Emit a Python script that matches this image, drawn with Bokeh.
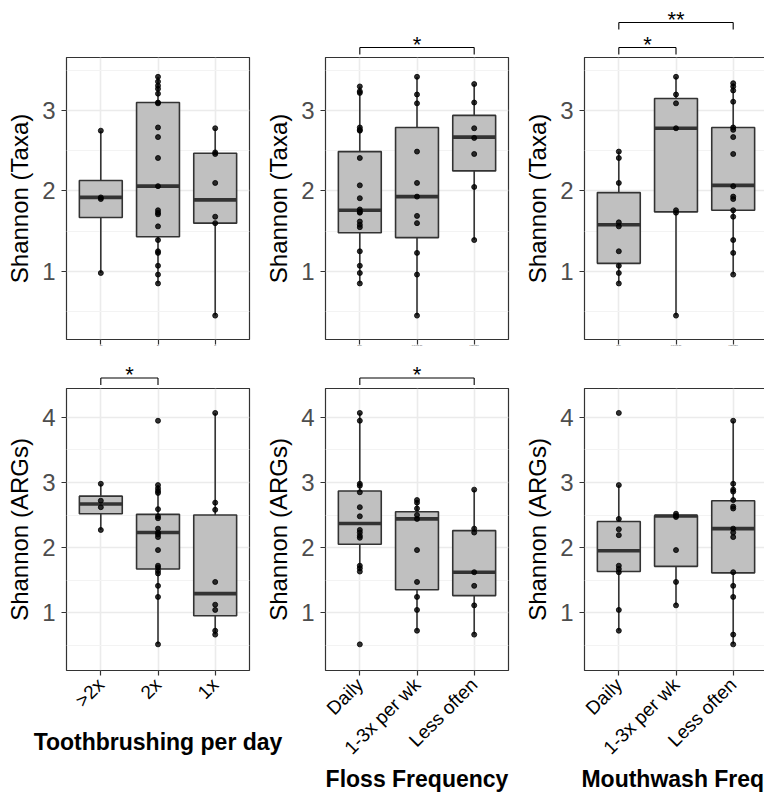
import math
from bokeh.plotting import figure
from bokeh.layouts import row, column
from bokeh.models import Range1d, FactorRange, FixedTicker, ColumnDataSource
from bokeh.transform import dodge
from bokeh.embed import file_html
from bokeh.resources import INLINE
from bokeh.core.properties import value

# ---------------- data ----------------
brush_cats = [">2x", "2x", "1x"]
freq_cats = ["Daily", "1-3x per wk", "Less often"]

# Shannon (Taxa) ~ Toothbrushing per day
taxa_brush_q1 = [1.67, 1.43, 1.60]
taxa_brush_med = [1.92, 2.06, 1.89]
taxa_brush_q3 = [2.13, 3.10, 2.47]
taxa_brush_lo = [0.98, 0.85, 0.45]
taxa_brush_hi = [2.75, 3.42, 2.78]
taxa_brush_pts = [
    [2.75, 1.92, 1.90, 0.98],
    [3.42, 3.36, 3.31, 3.27, 3.21, 3.10, 3.09, 2.79, 2.67, 2.41, 2.06, 1.76, 1.73, 1.71,
     1.56, 1.39, 1.25, 1.23, 1.07, 0.96, 0.85],
    [2.78, 2.48, 2.46, 2.10, 1.68, 1.60, 0.45],
]

# Shannon (Taxa) ~ Floss Frequency
taxa_floss_q1 = [1.48, 1.42, 2.25]
taxa_floss_med = [1.76, 1.93, 2.67]
taxa_floss_q3 = [2.49, 2.79, 2.94]
taxa_floss_lo = [0.85, 0.45, 1.39]
taxa_floss_hi = [3.30, 3.42, 3.33]
taxa_floss_pts = [
    [3.30, 3.24, 3.22, 2.79, 2.76, 2.75, 2.41, 2.07, 1.91, 1.77, 1.74, 1.73, 1.62, 1.58,
     1.55, 1.25, 1.07, 0.98, 0.85],
    [3.42, 3.20, 3.09, 2.49, 2.10, 1.93, 1.69, 1.60, 1.23, 0.96, 0.45],
    [3.33, 3.10, 2.78, 2.66, 2.46, 2.05, 1.39],
]

# Shannon (Taxa) ~ Mouthwash Freq.
taxa_mouth_q1 = [1.10, 1.74, 1.76]
taxa_mouth_med = [1.58, 2.78, 2.07]
taxa_mouth_q3 = [1.98, 3.15, 2.79]
taxa_mouth_lo = [0.85, 0.45, 0.96]
taxa_mouth_hi = [2.49, 3.42, 3.34]
taxa_mouth_pts = [
    [2.49, 2.41, 2.10, 1.61, 1.56, 1.25, 1.07, 0.98, 0.85],
    [3.42, 3.20, 3.09, 2.78, 1.76, 1.73, 0.45],
    [3.34, 3.30, 3.25, 3.11, 2.79, 2.76, 2.67, 2.46, 2.06, 1.93, 1.90, 1.76, 1.68, 1.39,
     1.23, 0.96],
]

# Shannon (ARGs) ~ Toothbrushing per day
args_brush_q1 = [2.52, 1.67, 0.95]
args_brush_med = [2.67, 2.23, 1.29]
args_brush_q3 = [2.79, 2.51, 2.50]
args_brush_lo = [2.27, 0.51, 0.66]
args_brush_hi = [2.98, 2.96, 4.07]
args_brush_pts = [
    [2.98, 2.72, 2.62, 2.27],
    [3.95, 2.96, 2.91, 2.87, 2.84, 2.59, 2.48, 2.45, 2.29, 2.23, 2.20, 2.16, 1.96, 1.72,
     1.69, 1.64, 1.60, 1.41, 1.24, 0.51],
    [4.07, 2.69, 2.58, 1.47, 1.12, 1.04, 0.72, 0.66],
]

# Shannon (ARGs) ~ Floss Frequency
args_floss_q1 = [2.05, 1.35, 1.26]
args_floss_med = [2.37, 2.44, 1.62]
args_floss_q3 = [2.87, 2.55, 2.26]
args_floss_lo = [1.64, 0.72, 0.66]
args_floss_hi = [4.07, 2.73, 2.89]
args_floss_pts = [
    [4.07, 3.95, 2.98, 2.95, 2.85, 2.62, 2.48, 2.27, 2.23, 2.18, 2.15, 1.72, 1.68, 1.63, 0.51],
    [2.73, 2.69, 2.60, 2.50, 2.44, 1.96, 1.47, 1.24, 1.04, 0.72],
    [2.89, 2.29, 2.23, 1.62, 1.41, 1.11, 0.66],
]

# Shannon (ARGs) ~ Mouthwash Freq.
args_mouth_q1 = [1.63, 1.71, 1.61]
args_mouth_med = [1.95, 2.485, 2.29]
args_mouth_q3 = [2.40, 2.49, 2.72]
args_mouth_lo = [0.72, 1.11, 0.51]
args_mouth_hi = [2.96, 2.52, 3.95]
args_mouth_pts = [
    [4.07, 2.96, 2.44, 2.28, 2.19, 1.72, 1.67, 1.62, 1.04, 0.72],
    [2.52, 2.49, 2.47, 1.96, 1.47, 1.11],
    [3.95, 2.98, 2.89, 2.86, 2.73, 2.63, 2.60, 2.29, 2.23, 2.16, 1.62, 1.41, 1.24, 0.66, 0.51],
]

# significance brackets: start, end, height, label
taxa_floss_br_start = ["Daily"]
taxa_floss_br_end = ["Less often"]
taxa_floss_br_y = [3.785]
taxa_floss_br_label = ["*"]

taxa_mouth_br_start = ["Daily", "Daily"]
taxa_mouth_br_end = ["1-3x per wk", "Less often"]
taxa_mouth_br_y = [3.785, 4.096]
taxa_mouth_br_label = ["*", "**"]

args_brush_br_start = [">2x"]
args_brush_br_end = ["2x"]
args_brush_br_y = [4.608]
args_brush_br_label = ["*"]

args_floss_br_start = ["Daily"]
args_floss_br_end = ["Less often"]
args_floss_br_y = [4.608]
args_floss_br_label = ["*"]

taxa_ticks = [1, 2, 3]
taxa_minor = [0.5, 1.5, 2.5, 3.5]
args_ticks = [1, 2, 3, 4]
args_minor = [0.5, 1.5, 2.5, 3.5, 4.5]

# ---------------- style ----------------
FONT = "Liberation Sans"
FRAME_H = 282
FRAME_W = 183
BOX_FILL = "#C0C0C0"
DARK = "#333333"
GRID = "#EBEBEB"
GRID_MINOR = "#F3F3F3"


def make_panel(cats, q1, med, q3, lo, hi, pts, ylim, ticks, minor, ylabel, xlabel,
               bottom_row, left, right, strip_h, br=None, fill="white", shift=0,
               xlabel_standoff=8):
    xr = FactorRange(factors=cats, range_padding=0.2 / 3, range_padding_units="percent")
    yr = Range1d(ylim[0], ylim[1])
    ppu = FRAME_H / (ylim[1] - ylim[0])

    p = figure(x_range=xr, y_range=yr, frame_width=FRAME_W, frame_height=FRAME_H,
               min_border_left=left, min_border_right=right, min_border_top=0,
               min_border_bottom=0 if bottom_row else 10,
               toolbar_location=None, output_backend="svg",
               background_fill_color="white", border_fill_color=fill)
    p.outline_line_color = DARK
    p.outline_line_width = 1.2

    tk = FixedTicker(ticks=ticks, minor_ticks=minor)
    p.yaxis.ticker = tk
    p.ygrid.ticker = tk
    p.ygrid.grid_line_color = GRID
    p.ygrid.grid_line_width = 1.6
    p.ygrid.minor_grid_line_color = GRID_MINOR
    p.ygrid.minor_grid_line_width = 1.0
    p.xgrid.grid_line_color = GRID
    p.xgrid.grid_line_width = 1.6

    for ax in (p.xaxis, p.yaxis):
        ax.axis_line_color = None
        ax.major_tick_line_color = DARK
        ax.major_tick_line_width = 1.2
        ax.major_tick_out = 5
        ax.major_tick_in = 0
        ax.minor_tick_line_color = None

    p.yaxis.major_label_text_font = FONT
    p.yaxis.major_label_text_font_size = "24px"
    p.yaxis.major_label_text_color = "#4D4D4D"
    p.yaxis.major_label_standoff = 6
    p.yaxis.axis_label = ylabel
    p.yaxis.axis_label_text_font = FONT
    p.yaxis.axis_label_text_font_size = "24px"
    p.yaxis.axis_label_text_font_style = "normal"
    p.yaxis.axis_label_text_color = "black"
    p.yaxis.axis_label_standoff = 6

    if bottom_row:
        p.xaxis.major_label_orientation = math.pi / 4
        p.xaxis.major_label_text_font = FONT
        p.xaxis.major_label_text_font_size = "19px"
        p.xaxis.major_label_text_color = "black"
        p.xaxis.major_label_standoff = 6
        p.xaxis.axis_label = xlabel
        p.xaxis.axis_label_text_font = FONT
        p.xaxis.axis_label_text_font_size = "23px"
        p.xaxis.axis_label_text_font_style = "bold"
        p.xaxis.axis_label_text_color = "black"
        p.xaxis.axis_label_standoff = xlabel_standoff
    else:
        p.xaxis.major_label_overrides = {c: "" for c in cats}
        p.xaxis.major_label_text_font_size = "2px"
        p.xaxis.major_label_standoff = 0

    # whiskers
    p.segment(x0=cats, x1=cats, y0=q3, y1=hi, line_color=DARK, line_width=1.6)
    p.segment(x0=cats, x1=cats, y0=q1, y1=lo, line_color=DARK, line_width=1.6)
    # boxes
    p.vbar(x=cats, width=0.75, bottom=q1, top=q3, fill_color=BOX_FILL,
           line_color=DARK, line_width=1.6)
    # medians
    msrc = ColumnDataSource(dict(cat=cats, med=med))
    p.segment(x0=dodge("cat", -0.375, range=xr), x1=dodge("cat", 0.375, range=xr),
              y0="med", y1="med", source=msrc, line_color=DARK, line_width=3.6)
    # points
    xs, ys = [], []
    for c, vals in zip(cats, pts):
        for v in vals:
            xs.append(c)
            ys.append(v)
    p.scatter(x=xs, y=ys, size=5, color="black", alpha=0.8)

    # strip above the panel for significance brackets
    s = figure(x_range=xr, y_range=Range1d(ylim[1], ylim[1] + strip_h / ppu),
               frame_width=FRAME_W, frame_height=strip_h,
               min_border_left=left, min_border_right=right, min_border_top=0,
               min_border_bottom=0, x_axis_location=None, y_axis_location=None,
               toolbar_location=None, output_backend="svg",
               background_fill_color=None, border_fill_color=fill)
    s.outline_line_color = None
    s.grid.visible = False
    if br is not None:
        starts, ends, heights, labels = br
        leg = 7.0 / ppu
        s.segment(x0=starts, x1=ends, y0=heights, y1=heights, line_color="black", line_width=1.1)
        s.segment(x0=starts, x1=starts, y0=heights, y1=[h - leg for h in heights],
                  line_color="black", line_width=1.1)
        s.segment(x0=ends, x1=ends, y0=heights, y1=[h - leg for h in heights],
                  line_color="black", line_width=1.1)
        for st, en, h, lab in zip(starts, ends, heights, labels):
            off = (cats.index(en) - cats.index(st)) / 2.0
            tsrc = ColumnDataSource(dict(x=[st], y=[h], t=[lab]))
            s.text(x=dodge("x", off, range=xr), y="y", text="t", source=tsrc,
                   text_align="center", text_baseline="alphabetic", y_offset=-3,
                   text_font=value(FONT), text_font_size="22px", text_color="black")
    if shift:
        return column(s, p, margin=(0, 0, 0, shift))
    return column(s, p)


TOP_LIM = (0.153, 3.66)
BOT_LIM = (0.108, 4.446)

c1 = make_panel(brush_cats, taxa_brush_q1, taxa_brush_med, taxa_brush_q3, taxa_brush_lo,
                taxa_brush_hi, taxa_brush_pts, TOP_LIM, taxa_ticks, taxa_minor,
                "Shannon (Taxa)", "", False, 66, 13, 57)
c2 = make_panel(freq_cats, taxa_floss_q1, taxa_floss_med, taxa_floss_q3, taxa_floss_lo,
                taxa_floss_hi, taxa_floss_pts, TOP_LIM, taxa_ticks, taxa_minor,
                "Shannon (Taxa)", "", False, 63, 7, 57,
                (taxa_floss_br_start, taxa_floss_br_end, taxa_floss_br_y, taxa_floss_br_label))
c3 = make_panel(freq_cats, taxa_mouth_q1, taxa_mouth_med, taxa_mouth_q3, taxa_mouth_lo,
                taxa_mouth_hi, taxa_mouth_pts, TOP_LIM, taxa_ticks, taxa_minor,
                "Shannon (Taxa)", "", False, 69, 0, 57,
                (taxa_mouth_br_start, taxa_mouth_br_end, taxa_mouth_br_y, taxa_mouth_br_label))

c4 = make_panel(brush_cats, args_brush_q1, args_brush_med, args_brush_q3, args_brush_lo,
                args_brush_hi, args_brush_pts, BOT_LIM, args_ticks, args_minor,
                "Shannon (ARGs)", "Toothbrushing per day", True, 66, 35, 39,
                (args_brush_br_start, args_brush_br_end, args_brush_br_y, args_brush_br_label))
c5 = make_panel(freq_cats, args_floss_q1, args_floss_med, args_floss_q3, args_floss_lo,
                args_floss_hi, args_floss_pts, BOT_LIM, args_ticks, args_minor,
                "Shannon (ARGs)", "Floss Frequency", True, 63, 7, 39,
                (args_floss_br_start, args_floss_br_end, args_floss_br_y, args_floss_br_label),
                fill=None, shift=-22, xlabel_standoff=-3)
c6 = make_panel(freq_cats, args_mouth_q1, args_mouth_med, args_mouth_q3, args_mouth_lo,
                args_mouth_hi, args_mouth_pts, BOT_LIM, args_ticks, args_minor,
                "Shannon (ARGs)", "Mouthwash Freq.", True, 69, 0, 39, xlabel_standoff=-3)

layout = column(row(c1, c2, c3), row(c4, c5, c6))

open("out.html", "w").write(file_html(layout, INLINE))
